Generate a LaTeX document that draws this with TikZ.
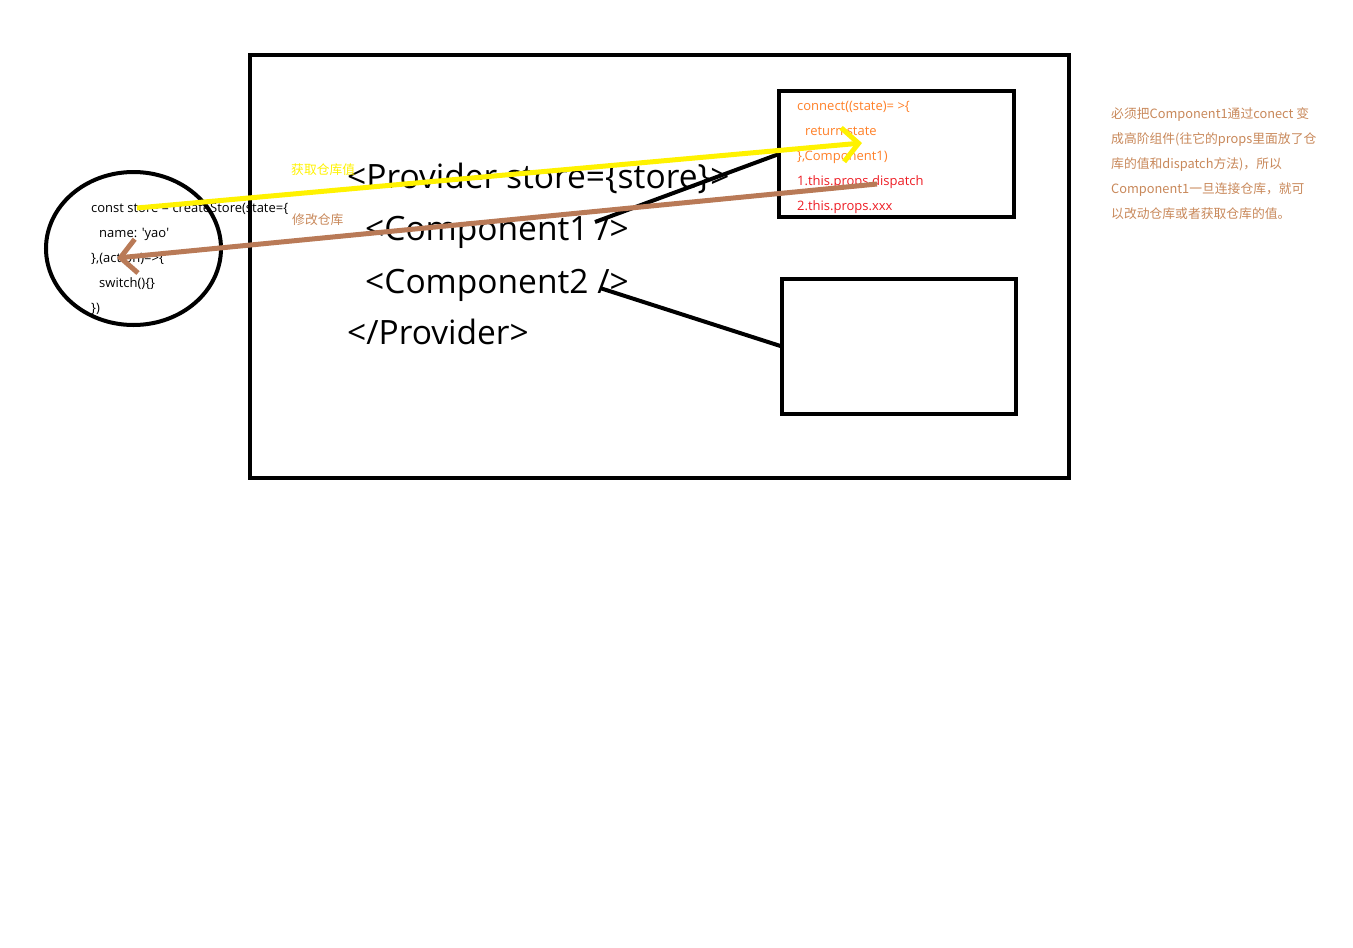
\documentclass[tikz,border=0pt]{standalone}
\usepackage{fontspec}
\setmainfont{Open Sans}
\newfontfamily\cjk{Noto Sans CJK SC}
\usetikzlibrary{arrows.meta,shapes.geometric}
\definecolor{penyellow}{RGB}{255,242,0}
\definecolor{penbrown}{RGB}{185,122,87}
\definecolor{penorange}{RGB}{255,127,39}
\definecolor{penred}{RGB}{237,28,36}
\definecolor{notebrown}{RGB}{200,136,90}
\tikzset{
  >={Straight Barb[length=16pt,width=34pt]},
  frame/.style={draw,line width=4pt,inner sep=0pt,outer sep=0pt},
  jsx/.style={anchor=base west,inner sep=0pt,font=\fontsize{33.5}{36}\selectfont},
  code/.style={anchor=base west,inner sep=0pt,font=\fontsize{13}{15}\selectfont},
  tag/.style={anchor=base west,inner sep=0pt,font=\cjk\fontsize{12.8}{15}\selectfont},
  link/.style={line width=4pt},
}
\tikzstyle{getpen}=[line width=5pt,draw=penyellow,->]
\tikzstyle{setpen}=[line width=5pt,draw=penbrown,->]

\begin{document}
\begin{tikzpicture}[x=1pt,y=-1pt]
  \useasboundingbox (0,0) rectangle (1353,948);
  % provider frame and the two components
  \node[frame,minimum width=819pt,minimum height=423pt] (app) at (659.5,266.5) {};
  \node[frame,minimum width=235pt,minimum height=126pt] (connbox) at (896.5,154) {};
  \node[frame,minimum width=234pt,minimum height=135pt] (plainbox) at (899,346.5) {};
  \node[frame,ellipse,minimum width=175pt,minimum height=153pt] (storeell) at (133.5,248.5) {};

  % jsx
  \node[jsx] (provopen) at (347,188) {<Provider store=\{store\}>};
  \node[jsx] (comp1) at (365,240) {<Component1 />};
  \node[jsx] (comp2) at (365,293) {<Component2 />};
  \node[jsx] (provclose) at (347,344) {</Provider>};

  % store
  \node[code] (st1) at (91,212) {const store = createStore(state=\{};
  \node[code] (st2) at (99,237) {name: \textquotesingle yao\textquotesingle};
  \node[code] (st3) at (91,262) {\},(action)=>\{};
  \node[code] (st4) at (99,287) {switch()\{\}};
  \node[code] (st5) at (91,312) {\})};

  % connect
  \node[code,text=penorange] (cn1) at (797,110) {connect((state)= >\{};
  \node[code,text=penorange] (cn2) at (805,135) {return state};
  \node[code,text=penorange] (cn3) at (797,160) {\},Component1)};
  \node[code,text=penred] (cn4) at (797,185) {1.this.props.dispatch};
  \node[code,text=penred] (cn5) at (797,210) {2.this.props.xxx};

  \node[tag,text=penyellow] (gettag) at (291,174) {获取仓库值};
  \node[tag,text=notebrown] (settag) at (292,224) {修改仓库};

  % note
  \node[tag,text=notebrown] (nt1) at (1111,118) {必须把Component1通过conect 变};
  \node[tag,text=notebrown] (nt2) at (1111,143) {成高阶组件(往它的props里面放了仓};
  \node[tag,text=notebrown] (nt3) at (1111,168) {库的值和dispatch方法)，所以};
  \node[tag,text=notebrown] (nt4) at (1111,193) {Component1一旦连接仓库，就可};
  \node[tag,text=notebrown] (nt5) at (1111,218) {以改动仓库或者获取仓库的值。};

  % connectors
  \coordinate (c1tail) at (595,222);
  \coordinate (c2tail) at (600,288);
  \coordinate (getfrom) at (137,208);
  \coordinate (getto) at (862,143);
  \coordinate (setfrom) at (877,184);
  \coordinate (setto) at (117,258);
  \draw[link] (c1tail) -- (connbox.west);
  \draw[link] (c2tail) -- (plainbox.west);
  \draw[getpen] (getfrom) -- (getto);
  \draw[setpen] (setfrom) -- (setto);
\end{tikzpicture}
\end{document}
